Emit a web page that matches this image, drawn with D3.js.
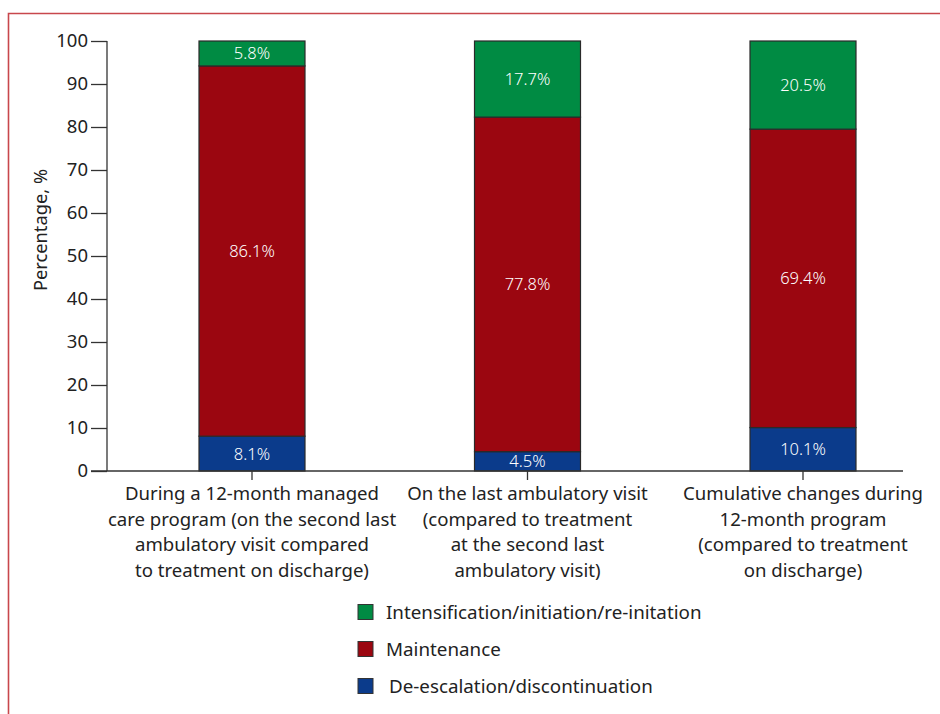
<!DOCTYPE html>
<html>
<head>
<meta charset="utf-8">
<script src="https://cdn.jsdelivr.net/npm/d3@7"></script>
<style>
  html, body { margin: 0; padding: 0; background: #fff; }
  svg { display: block; font-family: "Noto Sans", "Open Sans", sans-serif; }
</style>
</head>
<body>
<svg id="chart" width="940" height="714"></svg>
<script>
// Treatment changes across three time points (stacked, percent)
const categories = [
  ["During a 12-month managed", "care program (on the second last", "ambulatory visit compared", "to treatment on discharge)"],
  ["On the last ambulatory visit", "(compared to treatment", "at the second last", "ambulatory visit)"],
  ["Cumulative changes during", "12-month program", "(compared to treatment", "on discharge)"]
];
const seriesNames = ["De-escalation/discontinuation", "Maintenance", "Intensification/initiation/re-initation"];
const deescalation = [8.1, 4.5, 10.1];
const maintenance = [86.1, 77.8, 69.4];
const intensification = [5.8, 17.7, 20.5];
const yTicks = [0, 10, 20, 30, 40, 50, 60, 70, 80, 90, 100];
const colors = ["#0b3b8b", "#9b0610", "#008b43"];

const svg = d3.select("#chart");

// Outer frame (top and left rules)
svg.append("path")
  .attr("d", "M8.5,714 L8.5,13.5 L940,13.5")
  .attr("fill", "none")
  .attr("stroke", "#c8474c")
  .attr("stroke-width", 1.6);

const keys = categories.map((c, i) => "c" + i);
const x = d3.scalePoint().domain(keys).range([252, 803]);
const barW = 106;
const y = d3.scaleLinear().domain([0, 100]).range([471, 41]);

const rows = keys.map((k, i) => ({
  key: k,
  s0: deescalation[i],
  s1: maintenance[i],
  s2: intensification[i]
}));
const stack = d3.stack().keys(["s0", "s1", "s2"]);
const layers = stack(rows);

// Bars
const g = svg.append("g");
layers.forEach((layer, li) => {
  g.selectAll(null)
    .data(layer)
    .enter()
    .append("rect")
    .attr("x", d => x(d.data.key) - barW / 2)
    .attr("y", d => y(Math.min(d[1], 100)))
    .attr("width", barW)
    .attr("height", d => y(d[0]) - y(Math.min(d[1], 100)))
    .attr("fill", colors[li])
    .attr("stroke", "#2a2a2a")
    .attr("stroke-width", 1.2);
});

// Value labels inside segments
layers.forEach((layer, li) => {
  g.selectAll(null)
    .data(layer)
    .enter()
    .append("text")
    .attr("x", d => x(d.data.key))
    .attr("y", d => (y(d[0]) + y(Math.min(d[1], 100))) / 2)
    .attr("dy", "0.36em")
    .attr("text-anchor", "middle")
    .attr("fill", "#fff")
    .attr("font-size", 16.5)
    .attr("font-weight", 300)
    .text(d => d.data["s" + li].toFixed(1) + "%");
});

// Y axis
const yAxis = d3.axisLeft(y).tickValues(yTicks).tickSize(16).tickPadding(3);
const yg = svg.append("g").attr("transform", "translate(107,0)").call(yAxis);
yg.select(".domain").attr("d", "M0," + y(0) + "V" + y(100)).attr("stroke", "#333").attr("stroke-width", 1.3);
yg.selectAll(".tick line").attr("stroke", "#333").attr("stroke-width", 1.3);
yg.selectAll(".tick text").attr("fill", "#222").attr("font-size", 18.5).attr("font-family", "Noto Sans, sans-serif");

// X axis baseline and ticks
svg.append("line")
  .attr("x1", 91).attr("x2", 903)
  .attr("y1", y(0)).attr("y2", y(0))
  .attr("stroke", "#333").attr("stroke-width", 1.3);
svg.selectAll(null)
  .data(keys)
  .enter()
  .append("line")
  .attr("x1", d => x(d)).attr("x2", d => x(d))
  .attr("y1", y(0)).attr("y2", y(0) + 9)
  .attr("stroke", "#333").attr("stroke-width", 1.3);

// Category labels
const catText = svg.selectAll(null)
  .data(categories)
  .enter()
  .append("text")
  .attr("text-anchor", "middle")
  .attr("fill", "#222")
  .attr("font-size", 18.6);
catText.each(function(lines, i) {
  const t = d3.select(this);
  lines.forEach((ln, j) => {
    t.append("tspan")
      .attr("x", x(keys[i]))
      .attr("y", 500 + j * 25.5)
      .text(ln);
  });
});

// Y axis title
svg.append("text")
  .attr("transform", "translate(47,230) rotate(-90)")
  .attr("text-anchor", "middle")
  .attr("fill", "#222")
  .attr("font-size", 18.3)
  .text("Percentage, %");

// Legend
const legendOrder = [2, 1, 0];
const lg = svg.append("g");
legendOrder.forEach((si, r) => {
  const cy = 612 + r * 37;
  lg.append("rect")
    .attr("x", 358).attr("y", cy - 7.5)
    .attr("width", 15).attr("height", 15)
    .attr("fill", colors[si])
    .attr("stroke", "#333").attr("stroke-width", 1);
  lg.append("text")
    .attr("x", si === 0 ? 389 : 386).attr("y", cy)
    .attr("dy", "0.36em")
    .attr("fill", "#222")
    .attr("font-size", 18.8)
    .text(seriesNames[si]);
});
</script>
</body>
</html>
